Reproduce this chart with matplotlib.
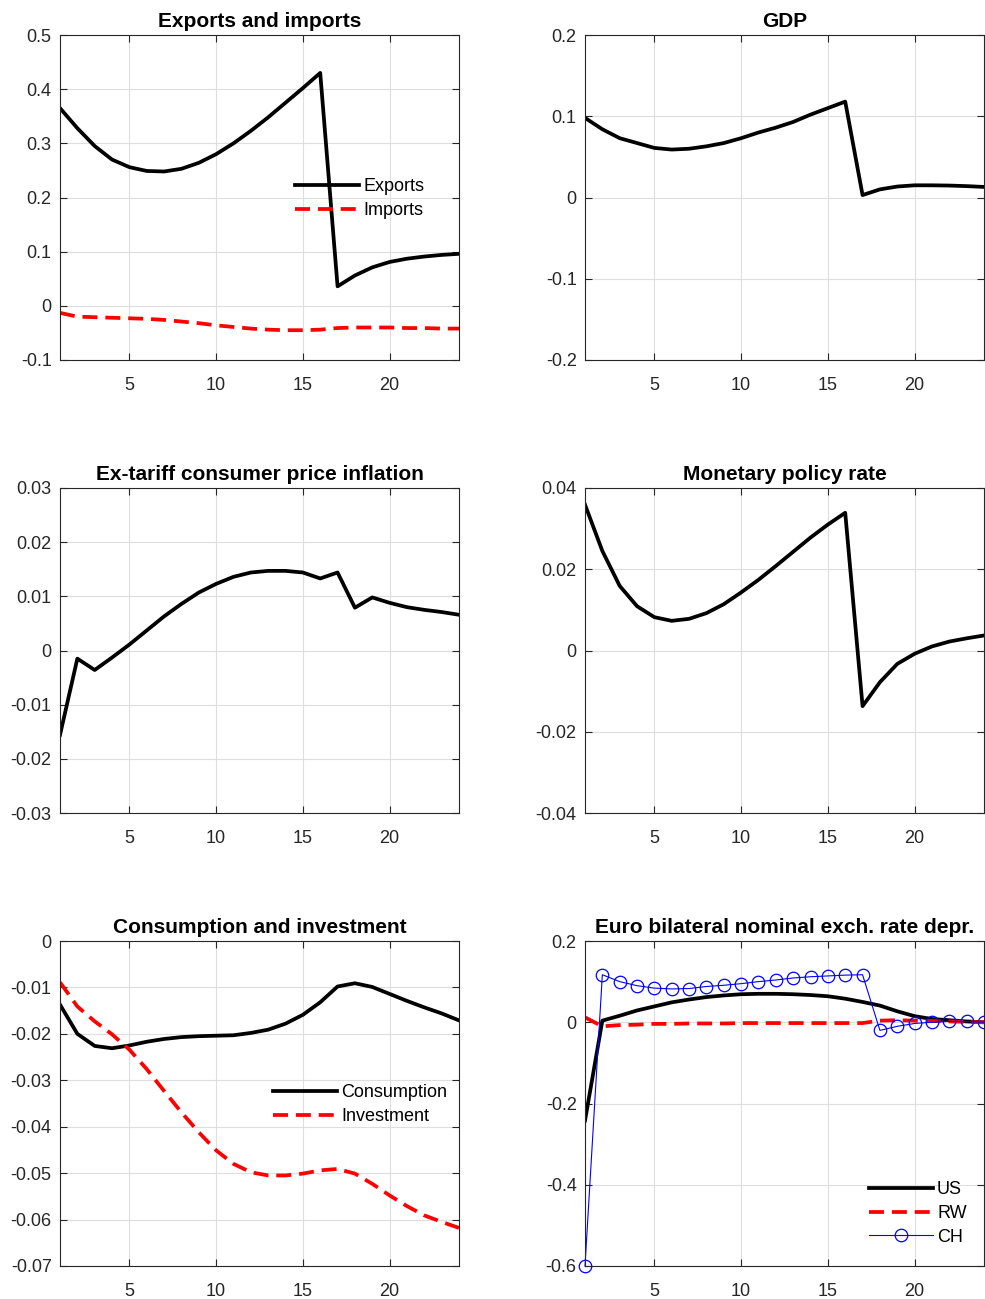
import numpy as np
import matplotlib
matplotlib.use("Agg")
import matplotlib.pyplot as plt

plt.rcParams['font.family'] = ['Liberation Sans', 'DejaVu Sans']

# %% data (quarters 1..24)
t = np.arange(1, 25)

exports = [0.365, 0.328, 0.295, 0.270, 0.256, 0.249, 0.248, 0.253, 0.264, 0.280,
           0.300, 0.323, 0.348, 0.375, 0.402, 0.430, 0.036, 0.056, 0.071, 0.081,
           0.087, 0.091, 0.094, 0.096]
imports = [-0.013, -0.020, -0.021, -0.022, -0.023, -0.024, -0.026, -0.029, -0.032, -0.036,
           -0.039, -0.042, -0.044, -0.045, -0.045, -0.044, -0.041, -0.040, -0.040, -0.040,
           -0.041, -0.041, -0.042, -0.042]

gdp = [0.098, 0.084, 0.073, 0.067, 0.061, 0.059, 0.060, 0.063, 0.067, 0.073,
       0.080, 0.086, 0.093, 0.102, 0.110, 0.118, 0.003, 0.010, 0.0135, 0.015,
       0.015, 0.0147, 0.014, 0.013]

inflation = [-0.0156, -0.0015, -0.0036, -0.0013, 0.0011, 0.0037, 0.0063, 0.0086, 0.0107, 0.0123,
             0.0136, 0.0144, 0.0147, 0.0147, 0.0144, 0.0133, 0.0144, 0.0079, 0.0098, 0.0088,
             0.0080, 0.0075, 0.0071, 0.0066]

policy_rate = [0.0359, 0.0245, 0.0159, 0.0109, 0.0082, 0.0073, 0.0078, 0.0092, 0.0114, 0.0143,
               0.0174, 0.0208, 0.0243, 0.0278, 0.0310, 0.0339, -0.0137, -0.0078, -0.0033, -0.0008,
               0.0010, 0.0022, 0.0030, 0.0037]

consumption = [-0.0137, -0.0200, -0.0226, -0.0231, -0.0225, -0.0217, -0.0211, -0.0207, -0.0205, -0.0204,
               -0.0203, -0.0198, -0.0191, -0.0178, -0.0159, -0.0132, -0.0098, -0.0091, -0.0099, -0.0114,
               -0.0129, -0.0143, -0.0156, -0.0171]
investment = [-0.0089, -0.0141, -0.0173, -0.0201, -0.0234, -0.0276, -0.0323, -0.0369, -0.0412, -0.0451,
              -0.0480, -0.0498, -0.0505, -0.0505, -0.0501, -0.0494, -0.0491, -0.0501, -0.0523, -0.0548,
              -0.0571, -0.0591, -0.0605, -0.0618]

er_us = [-0.242, 0.004, 0.016, 0.029, 0.039, 0.049, 0.056, 0.062, 0.066, 0.069,
         0.070, 0.070, 0.069, 0.067, 0.064, 0.058, 0.050, 0.041, 0.027, 0.015,
         0.008, 0.005, 0.002, 0.000]
er_rw = [0.012, -0.010, -0.007, -0.006, -0.004, -0.004, -0.003, -0.003, -0.003, -0.002,
         -0.002, -0.002, -0.002, -0.002, -0.002, -0.002, -0.002, 0.004, 0.005, 0.004,
         0.003, 0.002, 0.001, 0.000]
er_ch = [-0.600, 0.117, 0.100, 0.090, 0.084, 0.082, 0.083, 0.088, 0.091, 0.095,
         0.100, 0.104, 0.109, 0.112, 0.114, 0.116, 0.117, -0.020, -0.010, -0.003,
         0.000, 0.002, 0.002, 0.000]

# %% figure layout (MATLAB-like subplot grid)
fig = plt.figure(figsize=(9.85, 12.99), dpi=100)
W, H = 985, 1299
lefts = [60, 585]
tops = [35, 488, 941]
aw, ah = 399, 325

axes = []
for top in tops:
    for left in lefts:
        axes.append(fig.add_axes([left / W, 1 - (top + ah) / H, aw / W, ah / H]))

red_dash = (0, (4, 2.1))
lw = 2.7


def style(ax, title, ylim, yticks, ylabels):
    ax.set_xlim(1, 24)
    ax.set_ylim(*ylim)
    ax.set_xticks([5, 10, 15, 20])
    ax.set_yticks(yticks)
    ax.set_yticklabels(ylabels)
    ax.grid(True, color='#dedede', linewidth=0.8)
    ax.set_axisbelow(True)
    ax.tick_params(direction='in', top=True, right=True, length=5, width=0.8,
                   colors='#262626', labelsize=13)
    ax.tick_params(axis='x', pad=12)
    ax.tick_params(axis='y', pad=6)
    for s in ax.spines.values():
        s.set_color('#262626')
        s.set_linewidth(0.8)
    ax.set_title(title, fontsize=15, fontweight='bold', pad=6)


def leg(ax, top_px, left_px, axes_top, axes_left):
    ax.legend(loc='upper left',
              bbox_to_anchor=((left_px - axes_left) / aw, 1 - (top_px - axes_top) / ah),
              frameon=False, fontsize=13,
              handlelength=3.55, handletextpad=0.22, labelspacing=0.38,
              borderpad=0, borderaxespad=0)


# Exports and imports
ax = axes[0]
ax.plot(t, exports, color='k', lw=lw, label='Exports')
ax.plot(t, imports, color='r', lw=lw, ls=red_dash, label='Imports')
style(ax, 'Exports and imports', (-0.1, 0.5), np.arange(-0.1, 0.51, 0.1),
      ['-0.1', '0', '0.1', '0.2', '0.3', '0.4', '0.5'])
leg(ax, 178, 295, 35, 60)

# GDP
ax = axes[1]
ax.plot(t, gdp, color='k', lw=lw)
style(ax, 'GDP', (-0.2, 0.2), np.arange(-0.2, 0.21, 0.1),
      ['-0.2', '-0.1', '0', '0.1', '0.2'])

# Inflation
ax = axes[2]
ax.plot(t, inflation, color='k', lw=lw)
style(ax, 'Ex-tariff consumer price inflation', (-0.03, 0.03),
      np.arange(-0.03, 0.031, 0.01),
      ['-0.03', '-0.02', '-0.01', '0', '0.01', '0.02', '0.03'])

# Monetary policy rate
ax = axes[3]
ax.plot(t, policy_rate, color='k', lw=lw)
style(ax, 'Monetary policy rate', (-0.04, 0.04), np.arange(-0.04, 0.041, 0.02),
      ['-0.04', '-0.02', '0', '0.02', '0.04'])

# Consumption and investment
ax = axes[4]
ax.plot(t, consumption, color='k', lw=lw, label='Consumption')
ax.plot(t, investment, color='r', lw=lw, ls=red_dash, label='Investment')
style(ax, 'Consumption and investment', (-0.07, 0.0), np.arange(-0.07, 0.001, 0.01),
      ['-0.07', '-0.06', '-0.05', '-0.04', '-0.03', '-0.02', '-0.01', '0'])
leg(ax, 1084, 273, 941, 60)

# Exchange rate
ax = axes[5]
ax.plot(t, er_us, color='k', lw=lw, label='US')
ax.plot(t, er_rw, color='r', lw=lw, ls=red_dash, label='RW')
ax.plot(t, er_ch, color='b', lw=0.8, marker='o', markersize=9,
        markerfacecolor='none', markeredgewidth=0.9, label='CH', clip_on=False)
style(ax, 'Euro bilateral nominal exch. rate depr.', (-0.6, 0.2),
      np.arange(-0.6, 0.21, 0.2), ['-0.6', '-0.4', '-0.2', '0', '0.2'])
leg(ax, 1181, 869, 941, 585)

plt.savefig('out.png', dpi=100)
